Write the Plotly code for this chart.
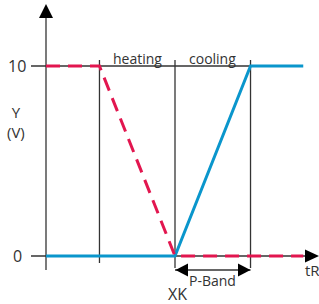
import plotly.graph_objects as go

# ---- data (x in units of P-band, y in volts) ----
heating_x = [0, 0.713, 1.72, 3.43]
heating_y = [10, 10, 0, 0]
cooling_x = [0, 1.72, 2.727, 3.43]
cooling_y = [0, 0, 10, 10]
y_ticks = [0, 10]
y_tick_labels = ["0", "10"]
boundary_x = [0.713, 1.72, 2.727]   # heating start, XK, XK + P-band
xk = 1.72
pband_end = 2.727

W, H = 319, 304
X0_PX, X_SCALE = 46, 75.0      # pixel of x=0, px per unit
Y0_PX, Y_SCALE = 256, 19.0     # pixel of y=0, px per unit

def px2x(px):
    return (px - X0_PX) / X_SCALE

def py2y(py):
    return (Y0_PX - py) / Y_SCALE

INK = "#333333"
RED = "#e2164f"
BLUE = "#0a96cc"
FONT = "Open Sans"

fig = go.Figure()

shapes = []
def line(x0, y0, x1, y1, w=1.3, color=INK):
    shapes.append(dict(type="line", xref="x", yref="y", x0=x0, y0=y0, x1=x1, y1=y1,
                       line=dict(color=color, width=w), layer="below"))

def tri(points):
    path = "M " + " L ".join(f"{px2x(a)},{py2y(b)}" for a, b in points) + " Z"
    shapes.append(dict(type="path", xref="x", yref="y", path=path,
                       fillcolor="black", line=dict(color="black", width=0)))

# y axis
line(0, py2y(270), 0, py2y(17))
tri([(46, 4), (39, 18), (53, 18)])
# x axis
line(px2x(31), 0, px2x(306), 0)
tri([(319, 256), (305, 249.5), (305, 262.5)])
# 10 line / tick
line(px2x(31), 10, pband_end, 10)
# boundaries
line(boundary_x[0], py2y(60), boundary_x[0], py2y(263))
line(boundary_x[1], py2y(60), boundary_x[1], py2y(268))
line(boundary_x[2], py2y(60), boundary_x[2], py2y(268))
# P-band double arrow
yb = py2y(270)
line(xk, yb, pband_end, yb)
tri([(175.5, 270), (188, 263.5), (188, 276.5)])
tri([(250.5, 270), (238, 263.5), (238, 276.5)])

fig.add_trace(go.Scatter(x=cooling_x, y=cooling_y, mode="lines",
                         line=dict(color=BLUE, width=3), hoverinfo="skip"))
fig.add_trace(go.Scatter(x=heating_x, y=heating_y, mode="lines",
                         line=dict(color=RED, width=3, dash="14px,8px"), hoverinfo="skip"))

ann = []
def text(x, y, s, size=14, xanchor="center"):
    ann.append(dict(x=x, y=y, xref="x", yref="y", text=s, showarrow=False,
                    font=dict(family=FONT, size=size, color=INK), xanchor=xanchor, yanchor="middle"))

for v, lab in zip(y_ticks, y_tick_labels):
    text(px2x(17), v, lab, 16)
text(px2x(16), py2y(122), "Y<br>(V)", 15)
text((boundary_x[0] + boundary_x[1]) / 2, py2y(58), "heating", 14)
text((boundary_x[1] + boundary_x[2]) / 2, py2y(58), "cooling", 14)
text((xk + pband_end) / 2, py2y(280), "P-Band", 14)
text(px2x(177), py2y(294), "XK", 16)
text(px2x(312), py2y(270), "tR", 15)

fig.update_layout(
    width=W, height=H, margin=dict(l=0, r=0, t=0, b=0),
    paper_bgcolor="white", plot_bgcolor="white", showlegend=False,
    xaxis=dict(visible=False, range=[px2x(0), px2x(W)], fixedrange=True),
    yaxis=dict(visible=False, range=[py2y(H), py2y(0)], fixedrange=True),
    shapes=shapes, annotations=ann,
)
fig.write_html("out.html", config={"displayModeBar": False},
               post_script="document.body.style.margin='0';document.body.style.overflow='hidden';")
